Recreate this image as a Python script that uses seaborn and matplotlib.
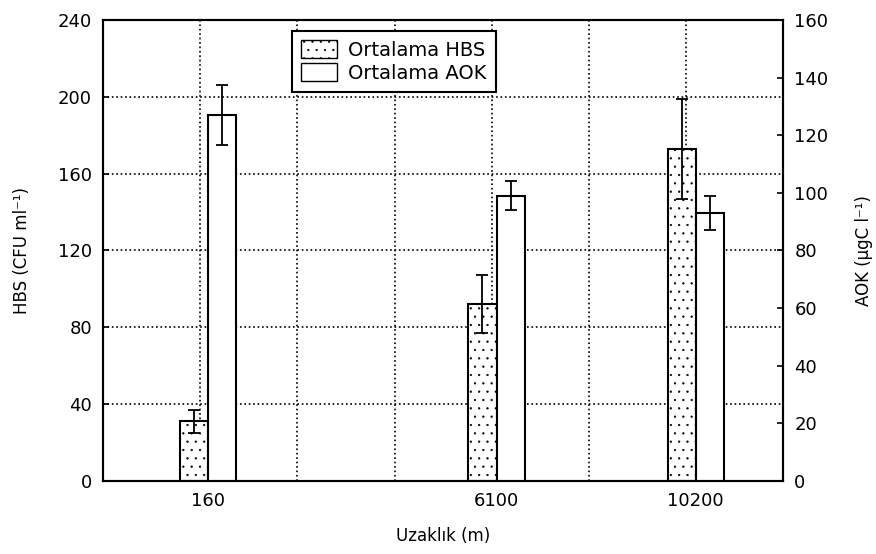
import matplotlib
matplotlib.use("Agg")
import matplotlib.pyplot as plt
import seaborn as sns
import numpy as np
from matplotlib.patches import Patch

# Values
distance = [160, 6100, 10200]
distance_labels = ["160", "6100", "10200"]
hbs_mean = [31, 92, 173]
hbs_err = [6, 15, 26]
aok_mean = [127, 99, 93]
aok_err = [10.5, 5, 6]

sns.set_theme(style="white")
plt.rcParams['font.family'] = ['DejaVu Sans']
plt.rcParams['hatch.linewidth'] = 0.4
plt.rcParams['hatch.color'] = 'black'
plt.rcParams['text.color'] = 'black'
plt.rcParams['axes.labelcolor'] = 'black'

BAR_W = 580
hbs_x = [d - BAR_W / 2 for d in distance]
aok_x = [d + BAR_W / 2 for d in distance]
rel_w = BAR_W / min(np.diff(distance))

fig = plt.figure(figsize=(8.76, 5.54), dpi=100)
ax = fig.add_axes([0.1176, 0.132, 0.7764, 0.832])
ax2 = ax.twinx()

sns.barplot(x=hbs_x, y=hbs_mean, native_scale=True, width=rel_w, color="white",
            saturation=1, edgecolor="black", linewidth=1.5, errorbar=None, ax=ax)
for p in ax.patches:
    p.set_hatch("..")
    p.set_zorder(2)
ax.errorbar(hbs_x, hbs_mean, yerr=hbs_err, fmt="none", ecolor="black",
            elinewidth=1.3, capsize=4, capthick=1.3, zorder=3)

sns.barplot(x=aok_x, y=aok_mean, native_scale=True, width=rel_w, color="white",
            saturation=1, edgecolor="black", linewidth=1.5, errorbar=None, ax=ax2)
ax2.errorbar(aok_x, aok_mean, yerr=aok_err, fmt="none", ecolor="black",
             elinewidth=1.3, capsize=4, capthick=1.3, zorder=3)

# x axis
ax.set_xlim(-2000, 12000)
ax.set_xticks(distance)
ax.set_xticklabels(distance_labels)
ax.set_xticks(np.arange(0, 12000, 2000), minor=True)
ax.grid(which="minor", axis="x", color="black", linestyle=":", linewidth=1.2)
ax.set_xlabel("Uzaklık (m)", fontsize=12, labelpad=12)

# left axis
ax.set_ylim(0, 240)
ax.set_yticks(np.arange(0, 241, 40))
ax.grid(which="major", axis="y", color="black", linestyle=":", linewidth=1.2)
ax.set_axisbelow(True)
ax.set_ylabel("HBS (CFU ml⁻¹)", fontsize=12, labelpad=19)

# right axis
ax2.set_ylim(0, 160)
ax2.set_yticks(np.arange(0, 161, 20))
ax2.set_ylabel("AOK (µgC l⁻¹)", fontsize=12, labelpad=19)
ax2.grid(False)

for a in (ax, ax2):
    a.tick_params(which="both", direction="in", length=4, width=1.2,
                  colors="black", labelsize=13, pad=8)
    a.tick_params(which="minor", length=0)
    for s in a.spines.values():
        s.set_color("black")
        s.set_linewidth(1.5)

handles = [Patch(facecolor="white", edgecolor="black", hatch="..", label="Ortalama HBS"),
           Patch(facecolor="white", edgecolor="black", label="Ortalama AOK")]
leg = ax2.legend(handles=handles, loc="upper left", bbox_to_anchor=(0.278, 0.975),
                 fancybox=False, framealpha=1, edgecolor="black", fontsize=14,
                 handlelength=1.85, handleheight=1.0, borderpad=0.45,
                 labelspacing=0.2, handletextpad=0.6, borderaxespad=0,
                 labelcolor="black")
leg.get_frame().set_linewidth(1.5)
leg.set_zorder(10)

fig.savefig("out.png", dpi=100)
